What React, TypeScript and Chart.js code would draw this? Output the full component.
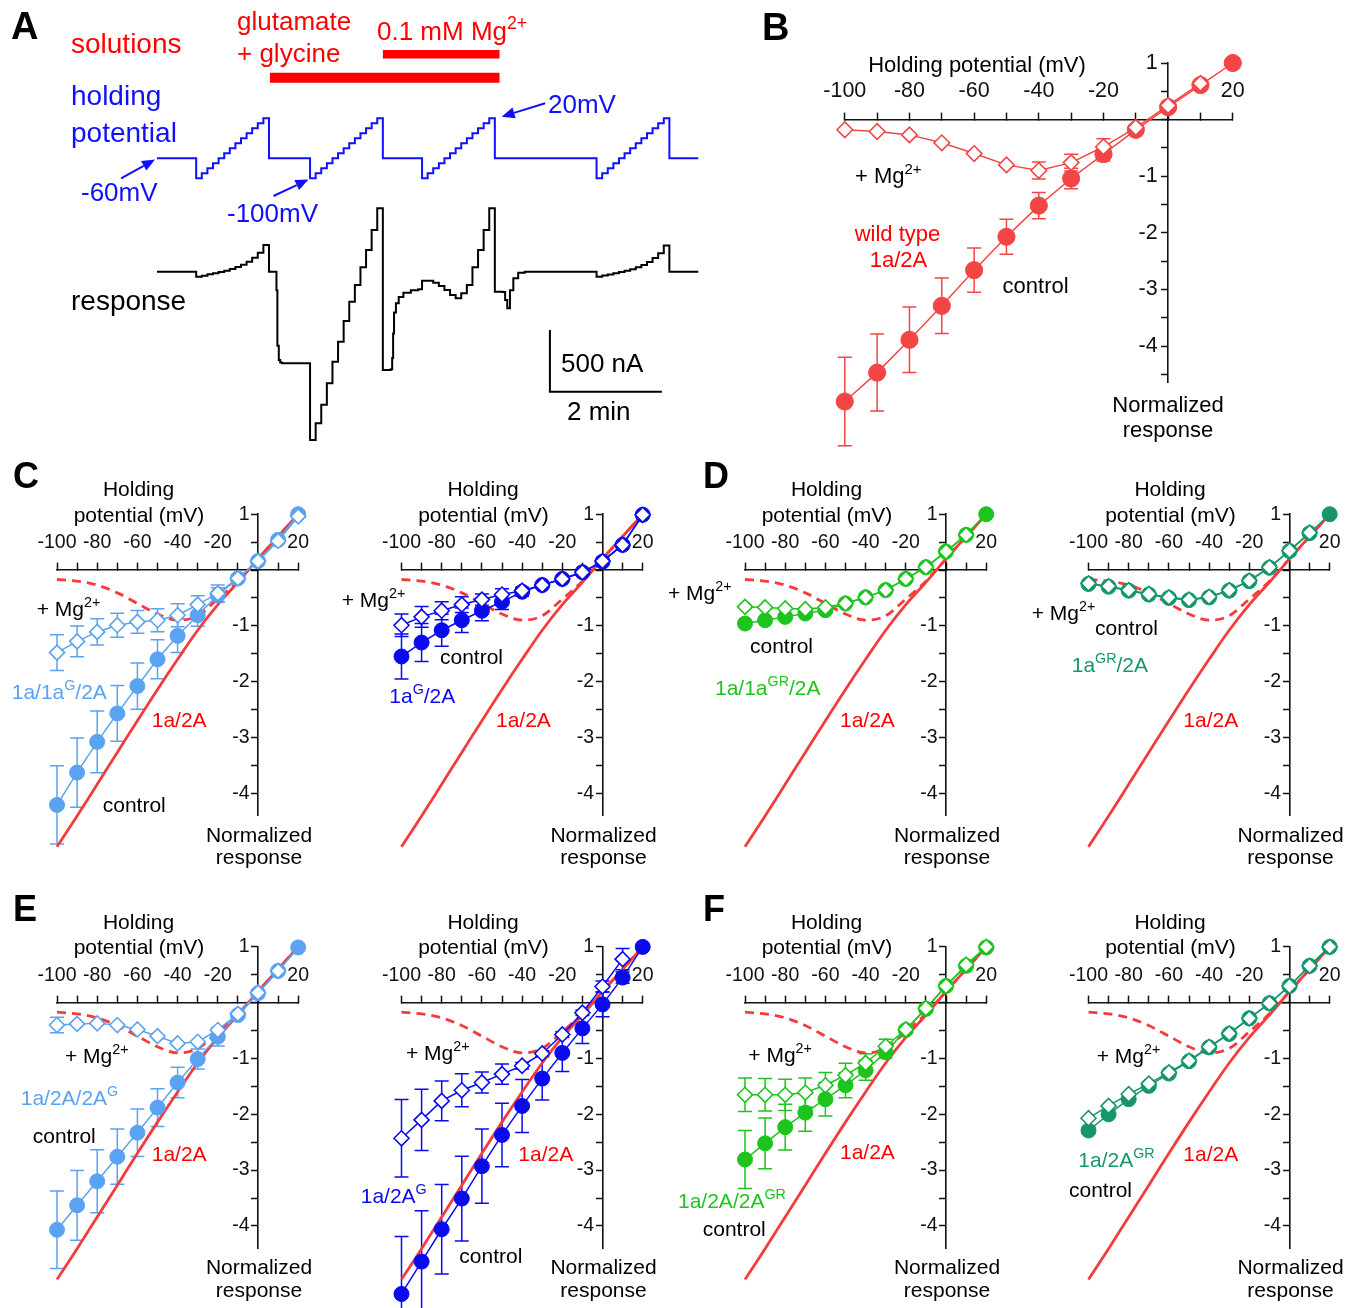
import React, { useEffect, useRef } from 'react';
import { Chart, registerables } from 'chart.js';

Chart.register(...registerables);

const FONT = '"Liberation Sans", Arial, Helvetica, sans-serif';
const INK = '#111111';
const TEXT_RED = '#ff0000';
const A_BLUE = '#1010ff';
const B_RED = '#f24646';
const REF_RED = '#f43c3c';
const LIGHT_BLUE = '#5aa2f2';
const BLUE = '#0a0af0';
const GREEN = '#1cc41c';
const TEAL = '#16966a';

// ================= Panel A: protocol and example recording =================
const rampLevels = [-100, -90, -80, -70, -60, -50, -40, -30, -20, -10, 0, 10, 20]; // mV
const holdLevel = -60; // mV
const rampStarts = [42, 164, 284, 471]; // s
const stepDuration = 6; // s
const traceEnd = 580; // s

// current (nA) during each voltage step of the four ramps
const ramp1Current = [-40, -32, -21, -13, -2, 8, 22, 38, 57, 81, 113, 154, 216];
const ramp2Current = [-1363, -1228, -1079, -904, -729, -567, -399, -243, -108, 36, 176, 338, 514];
const ramp3Current = [-73, -73, -89, -116, -148, -189, -216, -175, -108, 36, 176, 338, 514];
const ramp4Current = [-40, -31, -22, -12, -3, 7, 20, 35, 54, 78, 110, 150, 212];
// current (nA) at -60 mV between ramps: [time s, current nA]
const gapBefore1 = [[0, 0]];
const gapAfter1 = [[120, 0], [127, 0], [128, -150], [129, -600], [130.5, -715], [132, -735], [134, -742]];
const gapAfter2 = [[242, -796], [250.5, -790], [252, -700], [253, -500], [254, -330], [256, -255], [259, -205], [264, -170], [272, -150], [280, -143]];
const gapAfter3 = [[362, -162], [370, -165], [373, -230], [375.3, -297], [378.2, -150], [381.8, -54], [387, -8], [394, 0]];
const gapAfter4 = [[549, 0], [580, 0]];

const glutamateGlycine = [121, 367]; // s
const magnesium = [242, 367]; // s
const scaleBarCurrent = 500; // nA
const scaleBarTime = 120; // s
const scaleBarCorner = [421, -972]; // [s, nA]

// ================= I-V data (normalized response) =================
const mvValues = [-100, -90, -80, -70, -60, -50, -40, -30, -20, -10, 0, 10, 20];
const xTickLabels = ['-100', '', '-80', '', '-60', '', '-40', '', '-20', '', '', '', '20'];
const yTickValues = [1, 0.5, 0, -0.5, -1, -1.5, -2, -2.5, -3, -3.5, -4, -4.5];
const yLabelValues = [1, -1, -2, -3, -4];
const yLabelTexts = ['1', '-1', '-2', '-3', '-4'];

// wild type 1a/2A (panel B)
const bControl = [-4.98, -4.47, -3.89, -3.29, -2.66, -2.07, -1.52, -1.04, -0.61, -0.18, 0.22, 0.61, 1.0];
const bControlErr = [0.78, 0.68, 0.58, 0.49, 0.39, 0.31, 0.23, 0.18, 0.12, 0.04, 0, 0, 0];
const bMg = [-0.18, -0.21, -0.27, -0.41, -0.6, -0.8, -0.9, -0.76, -0.48, -0.14, 0.25, 0.64];
const bMgErr = [0, 0, 0, 0, 0, 0, 0.15, 0.15, 0.14, 0, 0, 0];

// 1a/2A reference curves redrawn in C-F
const refControl = [-4.96, -4.41, -3.84, -3.27, -2.7, -2.14, -1.6, -1.08, -0.62, -0.22, 0.2, 0.6, 1.0];
const refMg = [-0.17, -0.2, -0.27, -0.41, -0.6, -0.79, -0.9, -0.82, -0.52, -0.2, 0.2, 0.6, 1.0];

// C left: 1a/1aG/2A
const c1Control = [-4.21, -3.63, -3.08, -2.57, -2.08, -1.6, -1.18, -0.81, -0.45, -0.15, 0.16, 0.54, 1.0];
const c1ControlErr = [0.7, 0.62, 0.555, 0.5, 0.415, 0.35, 0.3, 0.2, 0.13, 0.05, 0, 0, 0];
const c1Mg = [-1.48, -1.28, -1.11, -0.99, -0.93, -0.9, -0.81, -0.62, -0.42, -0.15, 0.16, 0.52, 0.96];
const c1MgErr = [0.32, 0.275, 0.235, 0.215, 0.205, 0.205, 0.205, 0.16, 0.15, 0.05, 0, 0, 0];
// C right: 1aG/2A
const c2Control = [-1.55, -1.3, -1.08, -0.9, -0.73, -0.57, -0.39, -0.27, -0.16, -0.04, 0.15, 0.45, 0.99];
const c2ControlErr = [0.405, 0.34, 0.285, 0.22, 0.18, 0.14, 0.08, 0.03, 0.03, 0, 0, 0, 0];
const c2Mg = [-0.99, -0.84, -0.73, -0.62, -0.53, -0.44, -0.37, -0.27, -0.16, -0.04, 0.16, 0.45, 0.99];
const c2MgErr = [0.2, 0.185, 0.16, 0.14, 0.1, 0.105, 0.05, 0, 0, 0, 0, 0, 0];
// D left: 1a/1aGR/2A
const d1Control = [-0.96, -0.9, -0.84, -0.78, -0.72, -0.6, -0.49, -0.36, -0.16, 0.05, 0.33, 0.63, 1.0];
const d1Mg = [-0.66, -0.67, -0.69, -0.7, -0.67, -0.6, -0.49, -0.36, -0.16, 0.05, 0.33, 0.63];
// D right: 1aGR/2A
const d2Control = [-0.25, -0.3, -0.37, -0.44, -0.5, -0.54, -0.49, -0.37, -0.2, 0.04, 0.34, 0.66, 1.0];
const d2Mg = [-0.24, -0.29, -0.36, -0.43, -0.49, -0.53, -0.48, -0.36, -0.19, 0.05, 0.35, 0.67];
// E left: 1a/2A/2AG
const e1Control = [-4.07, -3.63, -3.2, -2.76, -2.33, -1.88, -1.43, -1.01, -0.61, -0.22, 0.17, 0.57, 0.99];
const e1ControlErr = [0.695, 0.625, 0.565, 0.495, 0.425, 0.34, 0.275, 0.18, 0.165, 0.05, 0, 0, 0];
const e1Mg = [-0.4, -0.38, -0.37, -0.4, -0.48, -0.6, -0.73, -0.7, -0.49, -0.2, 0.18, 0.57];
const e1MgErr = [0.14, 0, 0, 0, 0, 0, 0, 0, 0, 0, 0, 0];
// E right: 1a/2AG
const e2Control = [-5.22, -4.64, -4.06, -3.51, -2.93, -2.37, -1.85, -1.36, -0.9, -0.46, -0.03, 0.45, 1.0];
const e2ControlErr = [1.03, 0.91, 0.8, 0.76, 0.665, 0.57, 0.475, 0.385, 0.335, 0.27, 0.22, 0.1, 0];
const e2Mg = [-2.43, -2.1, -1.76, -1.57, -1.43, -1.28, -1.13, -0.91, -0.57, -0.18, 0.29, 0.78];
const e2MgErr = [0.695, 0.55, 0.355, 0.295, 0.19, 0.18, 0.06, 0.05, 0.05, 0.05, 0.1, 0.19];
// F left: 1a/2A/2AGR
const f1Control = [-2.81, -2.52, -2.23, -1.97, -1.73, -1.48, -1.21, -0.89, -0.49, -0.11, 0.3, 0.66, 0.99];
const f1ControlErr = [0.52, 0.455, 0.41, 0.335, 0.3, 0.225, 0.18, 0.1, 0.05, 0, 0, 0, 0];
const f1Mg = [-1.65, -1.65, -1.65, -1.61, -1.48, -1.3, -1.08, -0.78, -0.48, -0.1, 0.3, 0.68, 1.0];
const f1MgErr = [0.3, 0.29, 0.28, 0.26, 0.23, 0.215, 0.165, 0.125, 0.05, 0, 0, 0, 0];
// F right: 1a/2AGR
const f2Control = [-2.29, -2.0, -1.73, -1.49, -1.27, -1.05, -0.8, -0.56, -0.28, -0.01, 0.3, 0.66, 1.0];
const f2ControlErr = [0.06, 0, 0, 0, 0, 0, 0, 0, 0, 0, 0, 0, 0];
const f2Mg = [-2.07, -1.85, -1.64, -1.45, -1.25, -1.04, -0.79, -0.55, -0.28, -0.01, 0.3, 0.66, 1.0];

// ================= helpers =================
type Seg = { t: string; sup?: boolean };
type Txt = { x: number; y: number; text?: string; segs?: Seg[]; color?: string; size: number; bold?: boolean; align?: string };

function drawTexts(ctx: CanvasRenderingContext2D, texts: Txt[], ox: number, oy: number) {
  ctx.save();
  ctx.textBaseline = 'alphabetic';
  ctx.textAlign = 'left';
  for (const spec of texts) {
    const segs: Seg[] = spec.segs || [{ t: spec.text || '' }];
    const fontFor = (sup?: boolean) => `${spec.bold ? 'bold ' : ''}${sup ? spec.size * 0.68 : spec.size}px ${FONT}`;
    let total = 0;
    for (const s of segs) {
      ctx.font = fontFor(s.sup);
      total += ctx.measureText(s.t).width;
    }
    let x = spec.x - ox;
    if (spec.align === 'center') x -= total / 2;
    else if (spec.align === 'right') x -= total;
    const y = spec.y - oy;
    ctx.fillStyle = spec.color || '#000';
    for (const s of segs) {
      ctx.font = fontFor(s.sup);
      ctx.fillText(s.t, x, s.sup ? y - spec.size * 0.42 : y);
      x += ctx.measureText(s.t).width;
    }
  }
  ctx.restore();
}

function textPlugin(texts: Txt[], ox: number, oy: number) {
  return {
    id: 'figureTexts',
    afterDraw(chart: any) {
      drawTexts(chart.ctx, texts, ox, oy);
    },
  };
}

const errorBarPlugin = {
  id: 'errorBars',
  beforeDatasetsDraw(chart: any) {
    const ctx = chart.ctx;
    const xs = chart.scales.x;
    const ys = chart.scales.y;
    chart.data.datasets.forEach((ds: any) => {
      if (!ds.err) return;
      ctx.save();
      ctx.strokeStyle = ds.borderColor;
      ctx.lineWidth = 1.5;
      ds.data.forEach((pt: any, i: number) => {
        const e = ds.err[i];
        if (!e) return;
        const px = xs.getPixelForValue(pt.x);
        const y1 = ys.getPixelForValue(pt.y + e);
        const y2 = ys.getPixelForValue(pt.y - e);
        ctx.beginPath();
        ctx.moveTo(px, y1);
        ctx.lineTo(px, y2);
        ctx.moveTo(px - 7, y1);
        ctx.lineTo(px + 7, y1);
        ctx.moveTo(px - 7, y2);
        ctx.lineTo(px + 7, y2);
        ctx.stroke();
      });
      ctx.restore();
    });
  },
};

// Chart.js skips point elements lying outside the chart area; the axes of the
// figure end before the lowest data, so draw those elements with a wide area.
const outsidePointsPlugin = {
  id: 'outsidePoints',
  afterDatasetsDraw(chart: any) {
    const area = chart.chartArea;
    const wide = { left: -1e5, top: -1e5, right: 1e5, bottom: 1e5 };
    const metas = chart.getSortedVisibleDatasetMetas();
    for (let i = metas.length - 1; i >= 0; i--) {
      const meta = metas[i];
      (meta.data || []).forEach((el: any) => {
        const o = el.options || {};
        const r = o.radius || 0;
        if (r < 0.1) return;
        const m = r + (o.borderWidth || 0);
        const inside = el.x > area.left - m && el.x < area.right + m && el.y > area.top - m && el.y < area.bottom + m;
        if (!inside) el.draw(chart.ctx, wide);
      });
    }
  },
};

const toPts = (xs: number[], ys: number[]) => ys.map((y, i) => ({ x: xs[i], y }));

function markerSet(label: string, vals: number[], err: number[] | null, color: string, kind: 'circle' | 'diamond', r: number) {
  return {
    label,
    data: toPts(mvValues, vals),
    err,
    xAxisID: 'x',
    yAxisID: 'y',
    borderColor: color,
    borderWidth: 1.5,
    pointStyle: kind === 'circle' ? 'circle' : 'rectRot',
    pointRadius: r,
    pointBackgroundColor: kind === 'circle' ? color : '#ffffff',
    pointBorderColor: color,
    pointBorderWidth: kind === 'circle' ? 1 : 1.6,
    tension: 0,
    fill: false,
    clip: false,
  };
}

function refSets() {
  return [
    {
      label: '1a/2A + Mg',
      data: toPts(mvValues, refMg),
      xAxisID: 'x',
      yAxisID: 'y',
      borderColor: REF_RED,
      borderWidth: 2.8,
      borderDash: [9, 6],
      pointRadius: 0,
      cubicInterpolationMode: 'monotone',
      fill: false,
      clip: false,
    },
    {
      label: '1a/2A control',
      data: toPts(mvValues, refControl),
      xAxisID: 'x',
      yAxisID: 'y',
      borderColor: REF_RED,
      borderWidth: 2.8,
      pointRadius: 0,
      cubicInterpolationMode: 'monotone',
      fill: false,
      clip: false,
    },
  ];
}

type Geo = {
  left: number; top: number; w: number; h: number;
  xLeft: number; xRight: number; yTop: number; yBottom: number; yMin: number;
  tickSize: number; xLabelPad: number; yLabelAt: number;
};

function ivConfig(g: Geo, datasets: any[], texts: Txt[]) {
  const pad = {
    left: g.xLeft - g.left,
    right: g.left + g.w - g.xRight,
    top: g.yTop - g.top,
    bottom: g.top + g.h - g.yBottom,
  };
  const tickFont = { family: FONT, size: g.tickSize };
  return {
    type: 'line',
    data: { datasets },
    options: {
      responsive: false,
      animation: false,
      devicePixelRatio: 1,
      events: [],
      layout: { padding: pad, autoPadding: false },
      plugins: { legend: { display: false }, tooltip: { enabled: false } },
      scales: {
        x: {
          type: 'linear',
          min: -100,
          max: 20,
          bounds: 'data',
          position: { y: 0 },
          afterBuildTicks: (s: any) => { s.ticks = mvValues.map((v) => ({ value: v })); },
          ticks: {
            autoSkip: false, maxRotation: 0, minRotation: 0, padding: g.xLabelPad,
            font: tickFont, color: INK,
            callback: (_v: any, i: number) => xTickLabels[i],
          },
          grid: { display: true, drawOnChartArea: false, drawTicks: true, tickLength: -8, tickColor: INK, tickWidth: 1.5 },
          border: { display: true, color: INK, width: 1.6 },
        },
        y: {
          type: 'linear',
          min: g.yMin,
          max: 1,
          bounds: 'data',
          position: { x: 0 },
          afterBuildTicks: (s: any) => { s.ticks = yTickValues.filter((v) => v >= g.yMin).map((v) => ({ value: v })); },
          ticks: { display: false },
          grid: { display: true, drawOnChartArea: false, drawTicks: true, tickLength: 6, tickColor: INK, tickWidth: 1.5 },
          border: { display: true, color: INK, width: 1.6 },
        },
        yl: {
          type: 'linear',
          axis: 'y',
          min: g.yMin,
          max: 1,
          bounds: 'data',
          position: { x: g.yLabelAt },
          afterBuildTicks: (s: any) => { s.ticks = yLabelValues.map((v) => ({ value: v })); },
          ticks: { autoSkip: false, padding: 0, font: tickFont, color: INK, callback: (_v: any, i: number) => yLabelTexts[i] },
          grid: { display: false, drawTicks: false },
          border: { display: false },
        },
      },
    },
    plugins: [errorBarPlugin, outsidePointsPlugin, textPlugin(texts, g.left, g.top)],
  };
}

// ================= Panel A config =================
function panelAConfig() {
  const hold: any[] = [{ x: 0, y: holdLevel }];
  rampStarts.forEach((t0, i) => {
    if (i > 0) hold.push({ x: rampStarts[i - 1] + rampLevels.length * stepDuration, y: holdLevel });
    rampLevels.forEach((v, k) => hold.push({ x: t0 + k * stepDuration, y: v }));
  });
  hold.push({ x: rampStarts[rampStarts.length - 1] + rampLevels.length * stepDuration, y: holdLevel });
  hold.push({ x: traceEnd, y: holdLevel });

  const rampCurrents = [ramp1Current, ramp2Current, ramp3Current, ramp4Current];
  const gaps = [gapBefore1, gapAfter1, gapAfter2, gapAfter3, gapAfter4];
  const resp: any[] = [];
  gaps.forEach((g, i) => {
    g.forEach(([t, c]) => resp.push({ x: t, y: c }));
    if (i < rampCurrents.length) rampCurrents[i].forEach((c, k) => resp.push({ x: rampStarts[i] + k * stepDuration, y: c }));
  });

  const [sbT, sbI] = scaleBarCorner;
  const arrows = [
    { from: [-38.5, -100], to: [-2.1, -62.4] },
    { from: [124.8, -135.4], to: [162.3, -102.4] },
    { from: [415.9, 50], to: [369.3, 23.2] },
  ];
  const arrowPlugin = {
    id: 'arrows',
    afterDatasetsDraw(chart: any) {
      const ctx = chart.ctx;
      const xs = chart.scales.x;
      const ys = chart.scales.yV;
      ctx.save();
      ctx.strokeStyle = A_BLUE;
      ctx.fillStyle = A_BLUE;
      ctx.lineWidth = 2;
      for (const a of arrows) {
        const x1 = xs.getPixelForValue(a.from[0]);
        const y1 = ys.getPixelForValue(a.from[1]);
        const x2 = xs.getPixelForValue(a.to[0]);
        const y2 = ys.getPixelForValue(a.to[1]);
        const len = Math.hypot(x2 - x1, y2 - y1);
        const ux = (x2 - x1) / len;
        const uy = (y2 - y1) / len;
        const bx = x2 - ux * 13;
        const by = y2 - uy * 13;
        ctx.beginPath();
        ctx.moveTo(x1, y1);
        ctx.lineTo(bx, by);
        ctx.stroke();
        ctx.beginPath();
        ctx.moveTo(x2, y2);
        ctx.lineTo(bx - uy * 5.5, by + ux * 5.5);
        ctx.lineTo(bx + uy * 5.5, by - ux * 5.5);
        ctx.closePath();
        ctx.fill();
      }
      ctx.restore();
    },
  };
  const MG: Seg[] = [{ t: '0.1 mM Mg' }, { t: '2+', sup: true }];
  const texts: Txt[] = [
    { x: 11, y: 39, text: 'A', size: 38, bold: true },
    { x: 71, y: 53, text: 'solutions', size: 28, color: TEXT_RED },
    { x: 237, y: 30, text: 'glutamate', size: 26, color: TEXT_RED },
    { x: 237, y: 62, text: '+ glycine', size: 26, color: TEXT_RED },
    { x: 377, y: 40, segs: MG, size: 26, color: TEXT_RED },
    { x: 71, y: 105, text: 'holding', size: 28, color: A_BLUE },
    { x: 71, y: 142, text: 'potential', size: 28, color: A_BLUE },
    { x: 81, y: 201, text: '-60mV', size: 26, color: A_BLUE },
    { x: 227, y: 222, text: '-100mV', size: 26, color: A_BLUE },
    { x: 548, y: 113, text: '20mV', size: 26, color: A_BLUE },
    { x: 71, y: 310, text: 'response', size: 28 },
    { x: 561, y: 372, text: '500 nA', size: 26 },
    { x: 567, y: 420, text: '2 min', size: 26 },
  ];
  return {
    type: 'line',
    data: {
      datasets: [
        { label: 'holding potential', data: hold, xAxisID: 'x', yAxisID: 'yV', stepped: 'before', borderColor: A_BLUE, borderWidth: 2, pointRadius: 0, clip: false },
        { label: 'response', data: resp, xAxisID: 'x', yAxisID: 'yI', stepped: 'before', borderColor: '#000', borderWidth: 2, pointRadius: 0, clip: false },
        { label: 'glutamate + glycine', data: [{ x: glutamateGlycine[0], y: 1 }, { x: glutamateGlycine[1], y: 1 }], xAxisID: 'x', yAxisID: 'ySol', borderColor: '#ff0000', borderWidth: 10, borderCapStyle: 'butt', pointRadius: 0, clip: false },
        { label: 'Mg', data: [{ x: magnesium[0], y: 2 }, { x: magnesium[1], y: 2 }], xAxisID: 'x', yAxisID: 'ySol', borderColor: '#ff0000', borderWidth: 8.5, borderCapStyle: 'butt', pointRadius: 0, clip: false },
        {
          label: 'scale bar',
          data: [{ x: sbT, y: sbI + scaleBarCurrent }, { x: sbT, y: sbI }, { x: sbT + scaleBarTime, y: sbI }],
          xAxisID: 'x', yAxisID: 'yI', borderColor: '#000', borderWidth: 2, pointRadius: 0, tension: 0, clip: false,
        },
      ],
    },
    options: {
      responsive: false,
      animation: false,
      devicePixelRatio: 1,
      events: [],
      layout: { padding: { left: 157, right: 21.7, top: 0, bottom: 0 }, autoPadding: false },
      plugins: { legend: { display: false }, tooltip: { enabled: false } },
      scales: {
        x: { type: 'linear', min: 0, max: traceEnd, display: false },
        yI: { type: 'linear', min: -1445, max: 2201.8, display: false },
        yV: { type: 'linear', min: -643.4, max: 256.6, display: false },
        ySol: { type: 'linear', min: -14.91, max: 4.3205, display: false },
      },
    },
    plugins: [arrowPlugin, textPlugin(texts, 0, 0)],
  };
}

// ================= Panel geometry =================
const MGSEG: Seg[] = [{ t: '+ Mg' }, { t: '2+', sup: true }];
const SMALL_SPAN = 241.2;
const SMALL_UNIT = 55.8;
const SMALL_YMIN = -4.4;

function smallGeo(left: number, top: number, w: number, h: number, xLeft: number, yZero: number): Geo {
  return {
    left, top, w, h,
    xLeft, xRight: xLeft + SMALL_SPAN,
    yTop: yZero - SMALL_UNIT, yBottom: yZero - SMALL_YMIN * SMALL_UNIT, yMin: SMALL_YMIN,
    tickSize: 19.5, xLabelPad: -31.2, yLabelAt: -4.2,
  };
}

function axisTitles(xLeft: number, yZero: number): Txt[] {
  return [
    { x: xLeft + 81.5, y: yZero - 74, text: 'Holding', size: 21, align: 'center' },
    { x: xLeft + 82, y: yZero - 48.3, text: 'potential (mV)', size: 21, align: 'center' },
    { x: xLeft + 202, y: yZero + 271.7, text: 'Normalized', size: 21, align: 'center' },
    { x: xLeft + 202, y: yZero + 294.3, text: 'response', size: 21, align: 'center' },
  ];
}

function smallPanel(id: string, col: number, row: number, color: string, ctrl: number[], ctrlErr: number[] | null, mg: number[], mgErr: number[] | null, texts: Txt[]) {
  const lefts = [0, 335, 660, 1010];
  const widths = [340, 340, 350, 346];
  const xLefts = [57, 401.5, 745, 1088.5];
  const tops = [455, 885];
  const heights = [425, 423];
  const yZeros = [570, 1002.7];
  const g = smallGeo(lefts[col], tops[row], widths[col], heights[row], xLefts[col], yZeros[row]);
  const build = () =>
    ivConfig(
      g,
      [markerSet('+ Mg2+', mg, mgErr, color, 'diamond', 7.5), markerSet('control', ctrl, ctrlErr, color, 'circle', 7.5), ...refSets()],
      [...axisTitles(xLefts[col], yZeros[row]), ...texts]
    );
  return { id, left: g.left, top: g.top, w: g.w, h: g.h, build };
}

const panelB = {
  id: 'B', left: 740, top: 0, w: 616, h: 455,
  build: () => {
    const g: Geo = {
      left: 740, top: 0, w: 616, h: 455,
      xLeft: 844.8, xRight: 1232.8, yTop: 63, yBottom: 382.8, yMin: -4.65,
      tickSize: 21.5, xLabelPad: -33.7, yLabelAt: -3.25,
    };
    const texts: Txt[] = [
      { x: 762, y: 40, text: 'B', size: 38, bold: true },
      { x: 977, y: 71.7, text: 'Holding potential (mV)', size: 22, align: 'center' },
      { x: 855, y: 183, segs: MGSEG, size: 22 },
      { x: 897.5, y: 240.7, text: 'wild type', size: 22, align: 'center', color: TEXT_RED },
      { x: 898.5, y: 267, text: '1a/2A', size: 22, align: 'center', color: TEXT_RED },
      { x: 1002.6, y: 292.7, text: 'control', size: 22 },
      { x: 1168, y: 411.7, text: 'Normalized', size: 22, align: 'center' },
      { x: 1168, y: 437.3, text: 'response', size: 22, align: 'center' },
    ];
    return ivConfig(g, [markerSet('+ Mg2+', bMg, bMgErr, B_RED, 'diamond', 7.8), markerSet('control', bControl, bControlErr, B_RED, 'circle', 8.6)], texts);
  },
};

const charts = [
  { id: 'A', left: 0, top: 0, w: 720, h: 450, build: panelAConfig },
  panelB,
  smallPanel('C1', 0, 0, LIGHT_BLUE, c1Control, c1ControlErr, c1Mg, c1MgErr, [
    { x: 13, y: 488, text: 'C', size: 36, bold: true },
    { x: 36.7, y: 616, segs: MGSEG, size: 21 },
    { x: 11.7, y: 699.3, segs: [{ t: '1a/1a' }, { t: 'G', sup: true }, { t: '/2A' }], color: LIGHT_BLUE, size: 21 },
    { x: 151.7, y: 726.7, text: '1a/2A', color: TEXT_RED, size: 21 },
    { x: 102.7, y: 811.7, text: 'control', size: 21 },
  ]),
  smallPanel('C2', 1, 0, BLUE, c2Control, c2ControlErr, c2Mg, c2MgErr, [
    { x: 341.7, y: 606.7, segs: MGSEG, size: 21 },
    { x: 440, y: 664, text: 'control', size: 21 },
    { x: 389.3, y: 703.3, segs: [{ t: '1a' }, { t: 'G', sup: true }, { t: '/2A' }], color: BLUE, size: 21 },
    { x: 496, y: 726.7, text: '1a/2A', color: TEXT_RED, size: 21 },
  ]),
  smallPanel('D1', 2, 0, GREEN, d1Control, null, d1Mg, null, [
    { x: 703, y: 488, text: 'D', size: 36, bold: true },
    { x: 668, y: 600, segs: MGSEG, size: 21 },
    { x: 750, y: 653.3, text: 'control', size: 21 },
    { x: 715, y: 695, segs: [{ t: '1a/1a' }, { t: 'GR', sup: true }, { t: '/2A' }], color: GREEN, size: 21 },
    { x: 840, y: 726.7, text: '1a/2A', color: TEXT_RED, size: 21 },
  ]),
  smallPanel('D2', 3, 0, TEAL, d2Control, null, d2Mg, null, [
    { x: 1031.7, y: 620, segs: MGSEG, size: 21 },
    { x: 1095, y: 635, text: 'control', size: 21 },
    { x: 1071.7, y: 671.7, segs: [{ t: '1a' }, { t: 'GR', sup: true }, { t: '/2A' }], color: TEAL, size: 21 },
    { x: 1183.3, y: 726.7, text: '1a/2A', color: TEXT_RED, size: 21 },
  ]),
  smallPanel('E1', 0, 1, LIGHT_BLUE, e1Control, e1ControlErr, e1Mg, e1MgErr, [
    { x: 13, y: 921, text: 'E', size: 36, bold: true },
    { x: 65, y: 1063.3, segs: MGSEG, size: 21 },
    { x: 20.7, y: 1105, segs: [{ t: '1a/2A/2A' }, { t: 'G', sup: true }], color: LIGHT_BLUE, size: 21 },
    { x: 32.7, y: 1143.3, text: 'control', size: 21 },
    { x: 151.7, y: 1160.7, text: '1a/2A', color: TEXT_RED, size: 21 },
  ]),
  smallPanel('E2', 1, 1, BLUE, e2Control, e2ControlErr, e2Mg, e2MgErr, [
    { x: 406, y: 1060, segs: MGSEG, size: 21 },
    { x: 518.3, y: 1160.7, text: '1a/2A', color: TEXT_RED, size: 21 },
    { x: 360.7, y: 1203.3, segs: [{ t: '1a/2A' }, { t: 'G', sup: true }], color: BLUE, size: 21 },
    { x: 459.3, y: 1262.7, text: 'control', size: 21 },
  ]),
  smallPanel('F1', 2, 1, GREEN, f1Control, f1ControlErr, f1Mg, f1MgErr, [
    { x: 703, y: 921, text: 'F', size: 36, bold: true },
    { x: 748.3, y: 1061.7, segs: MGSEG, size: 21 },
    { x: 840, y: 1159.3, text: '1a/2A', color: TEXT_RED, size: 21 },
    { x: 678, y: 1208.3, segs: [{ t: '1a/2A/2A' }, { t: 'GR', sup: true }], color: GREEN, size: 21 },
    { x: 702.7, y: 1236, text: 'control', size: 21 },
  ]),
  smallPanel('F2', 3, 1, TEAL, f2Control, f2ControlErr, f2Mg, null, [
    { x: 1096.7, y: 1063.3, segs: MGSEG, size: 21 },
    { x: 1078.3, y: 1166.7, segs: [{ t: '1a/2A' }, { t: 'GR', sup: true }], color: TEAL, size: 21 },
    { x: 1183.3, y: 1160.7, text: '1a/2A', color: TEXT_RED, size: 21 },
    { x: 1069, y: 1197.3, text: 'control', size: 21 },
  ]),
];

function ChartBox({ left, top, w, h, build }: { left: number; top: number; w: number; h: number; build: () => any }) {
  const ref = useRef<HTMLCanvasElement>(null);
  useEffect(() => {
    const chart = new Chart(ref.current as HTMLCanvasElement, build());
    return () => chart.destroy();
  }, [build]);
  return (
    <canvas
      ref={ref}
      width={w}
      height={h}
      style={{ position: 'absolute', left, top, width: w, height: h, display: 'block' }}
    />
  );
}

export default function App() {
  return (
    <div style={{ position: 'absolute', left: 0, top: 0, width: 1356, height: 1308, background: '#ffffff', overflow: 'hidden' }}>
      {charts.map((c) => (
        <ChartBox key={c.id} left={c.left} top={c.top} w={c.w} h={c.h} build={c.build} />
      ))}
    </div>
  );
}
